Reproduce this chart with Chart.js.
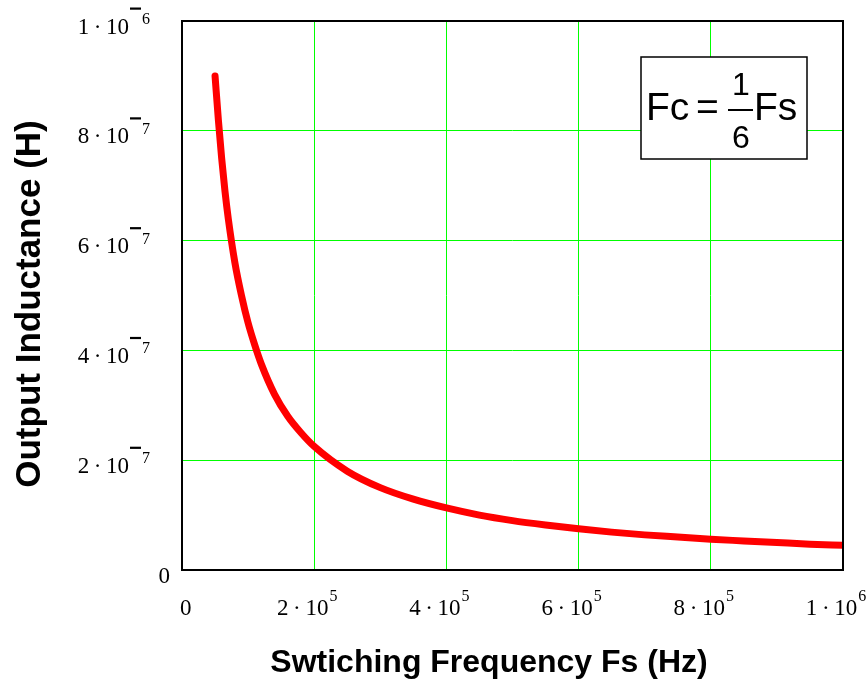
<!DOCTYPE html>
<html>
<head>
<meta charset="utf-8">
<script src="https://cdn.jsdelivr.net/npm/chart.js@4"></script>
<style>
    html, body { margin: 0; padding: 0; background: #fff; }
    #wrap { width: 868px; height: 681px; }
</style>
</head>
<body>
<div id="wrap"><canvas id="grafico"></canvas></div>
<script>
// switching frequency (Hz) and output inductance (H)
var freq = [50000, 55000, 60000, 65000, 70000, 80000, 90000, 100000, 110000, 120000,
            140000, 160000, 180000, 200000, 250000, 300000, 350000, 400000, 450000, 500000,
            550000, 600000, 650000, 700000, 750000, 800000, 850000, 900000, 950000, 1000000];
var inductance = [9.0e-7, 8.2e-7, 7.5e-7, 6.9e-7, 6.4e-7, 5.6e-7, 5.0e-7, 4.5e-7, 4.1e-7, 3.75e-7,
                  3.2e-7, 2.8e-7, 2.5e-7, 2.25e-7, 1.8e-7, 1.5e-7, 1.29e-7, 1.13e-7, 1.0e-7, 9.0e-8,
                  8.2e-8, 7.5e-8, 6.9e-8, 6.4e-8, 6.0e-8, 5.6e-8, 5.3e-8, 5.0e-8, 4.7e-8, 4.5e-8];

// tick values and labels as [base, exponent]
var xTicks = [0, 200000, 400000, 600000, 800000, 1000000];
var xTickLabels = [['0', ''], ['2\u2009\u00b7\u200910', '5'], ['4\u2009\u00b7\u200910', '5'],
                   ['6\u2009\u00b7\u200910', '5'], ['8\u2009\u00b7\u200910', '5'], ['1\u2009\u00b7\u200910', '6']];
var yTicks = [0, 2e-7, 4e-7, 6e-7, 8e-7, 1e-6];
var yTickLabels = [['0', ''], ['2\u2009\u00b7\u200910', '-7'], ['4\u2009\u00b7\u200910', '-7'],
                   ['6\u2009\u00b7\u200910', '-7'], ['8\u2009\u00b7\u200910', '-7'], ['1\u2009\u00b7\u200910', '-6']];

var xTitle = 'Swtiching Frequency Fs (Hz)';
var yTitle = 'Output Inductance (H)';

var baseFont = '23px "Liberation Serif", "Times New Roman", serif';
var expFont = '16px "Liberation Serif", "Times New Roman", serif';

function labelWidth(ctx, lab)
{
    ctx.font = baseFont;
    let w = ctx.measureText(lab[0]).width;
    if(lab[1] !== '')
    {
        ctx.font = expFont;
        let digits = lab[1].replace('-', '');
        w += ctx.measureText(digits).width + 1;
        if(lab[1].charAt(0) === '-') w += 12;
    }
    return w;
}

function drawLabel(ctx, lab, x, baseline, expRaise)
{
    ctx.textAlign = 'left';
    ctx.textBaseline = 'alphabetic';
    ctx.fillStyle = '#000';
    ctx.font = baseFont;
    ctx.fillText(lab[0], x, baseline);
    x += ctx.measureText(lab[0]).width + 1;
    if(lab[1] === '') return;
    let digits = lab[1];
    if(digits.charAt(0) === '-')
    {
        // mathcad style raised minus bar
        ctx.fillRect(x, baseline - 26, 11, 2.2);
        x += 12;
        digits = digits.substring(1);
    }
    ctx.font = expFont;
    ctx.fillText(digits, x, baseline - expRaise);
}

var desenho = {
    id: 'desenho',
    afterDraw: function(chart)
    {
        let ctx = chart.ctx;
        let area = chart.chartArea;
        let sx = chart.scales.x;
        let sy = chart.scales.y;
        ctx.save();

        // frame
        ctx.strokeStyle = '#000';
        ctx.lineWidth = 2;
        ctx.strokeRect(area.left, area.top, area.right - area.left, area.bottom - area.top);

        // x tick labels
        xTicks.forEach(function(v, i) {
            let px = sx.getPixelForValue(v);
            let lab = xTickLabels[i];
            let w = labelWidth(ctx, lab);
            let x0 = lab[1] === '' ? px - 2 : px - 7 - w / 2;
            drawLabel(ctx, lab, x0, area.bottom + 45, 14);
        });

        // y tick labels
        yTicks.forEach(function(v, i) {
            let py = sy.getPixelForValue(v);
            let lab = yTickLabels[i];
            let w = labelWidth(ctx, lab);
            let right = lab[1] === '' ? area.left - 12 : area.left - 32;
            drawLabel(ctx, lab, right - w, py + 12.5, 9.5);
        });

        // axis titles
        ctx.fillStyle = '#000';
        ctx.textAlign = 'center';
        ctx.textBaseline = 'alphabetic';
        ctx.font = 'bold 32px "Liberation Sans", Arial, sans-serif';
        ctx.fillText(xTitle, area.left + 307, area.bottom + 102);

        ctx.save();
        ctx.font = 'bold 35px "Liberation Sans", Arial, sans-serif';
        ctx.translate(40, area.top + 283);
        ctx.rotate(-Math.PI / 2);
        ctx.fillText(yTitle, 0, 0);
        ctx.restore();

        // formula box
        let bx = area.left + 459, by = area.top + 36, bw = 166, bh = 102;
        ctx.fillStyle = '#fff';
        ctx.fillRect(bx, by, bw, bh);
        ctx.lineWidth = 1.5;
        ctx.strokeStyle = '#000';
        ctx.strokeRect(bx, by, bw, bh);

        ctx.fillStyle = '#000';
        ctx.textAlign = 'left';
        ctx.font = '39px "Liberation Sans", Arial, sans-serif';
        ctx.fillText('Fc', bx + 5, by + 63);
        ctx.fillText('=', bx + 55, by + 63);
        ctx.fillText('Fs', bx + 113, by + 63);
        ctx.font = '32px "Liberation Sans", Arial, sans-serif';
        ctx.textAlign = 'center';
        ctx.fillText('1', bx + 100, by + 38);
        ctx.fillText('6', bx + 100, by + 91);
        ctx.fillRect(bx + 87, by + 52, 25, 2);

        ctx.restore();
    }
};

var config = {
    type: 'line',
    data: {
        datasets: [{
            label: 'L',
            data: freq.map(function(f, i) { return {x: f, y: inductance[i]}; }),
            borderColor: 'rgb(255, 0, 0)',
            borderWidth: 7,
            borderCapStyle: 'round',
            borderJoinStyle: 'round',
            pointRadius: 0,
            fill: false,
            cubicInterpolationMode: 'monotone'
        }]
    },
    options: {
        responsive: true,
        maintainAspectRatio: false,
        animation: false,
        layout: {
            padding: { left: 182, right: 25, top: 21, bottom: 111 }
        },
        plugins: {
            legend: { display: false },
            tooltip: { enabled: false }
        },
        scales: {
            x: {
                type: 'linear',
                min: 0,
                max: 1000000,
                ticks: { display: false, stepSize: 200000 },
                grid: { color: 'rgb(0, 255, 0)', lineWidth: 1, drawTicks: false },
                border: { display: false }
            },
            y: {
                type: 'linear',
                min: 0,
                max: 1e-6,
                ticks: { display: false, stepSize: 2e-7 },
                grid: { color: 'rgb(0, 255, 0)', lineWidth: 1, drawTicks: false },
                border: { display: false }
            }
        }
    },
    plugins: [desenho]
};

var grafico = new Chart(document.getElementById('grafico'), config);
</script>
</body>
</html>
